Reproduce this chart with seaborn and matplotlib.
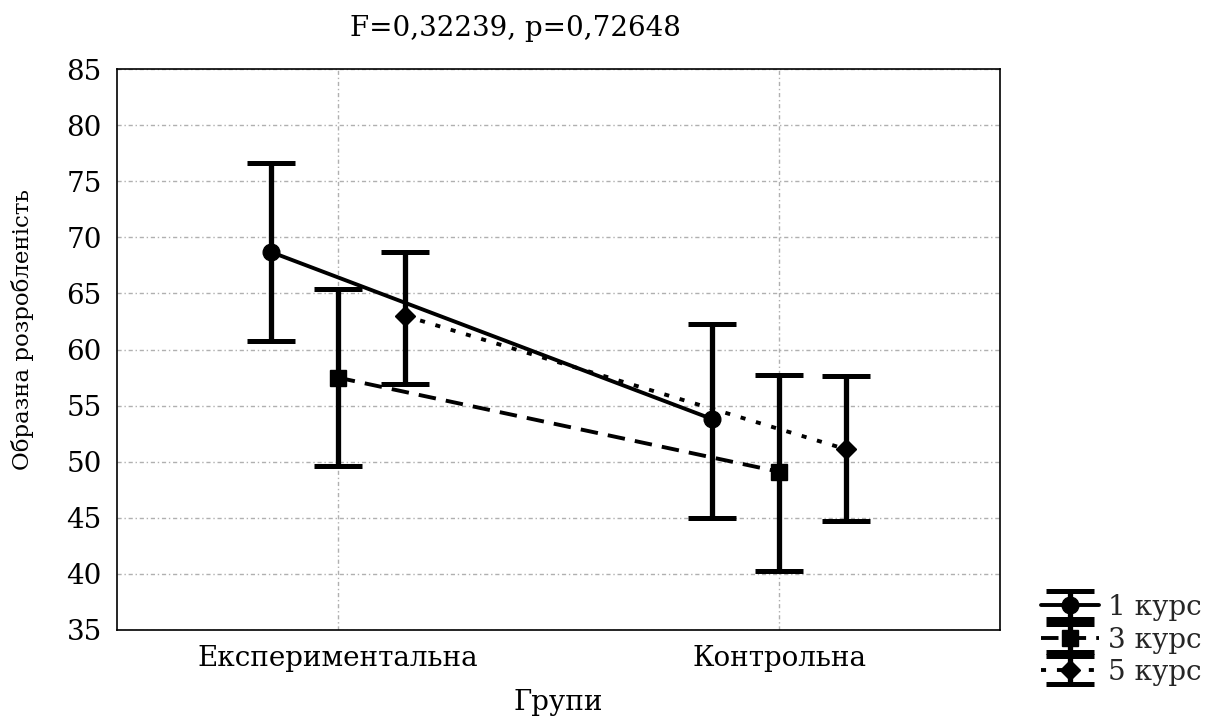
import numpy as np
import matplotlib
matplotlib.use("Agg")
import matplotlib.pyplot as plt
import seaborn as sns

# Group categories and course series
groups = ["Експериментальна", "Контрольна"]
courses = ["1 курс", "3 курс", "5 курс"]

# Means and confidence bounds per course (Експериментальна, Контрольна)
means = {
    "1 курс": [68.7, 53.8],
    "3 курс": [57.5, 49.1],
    "5 курс": [63.0, 51.1],
}
lower = {
    "1 курс": [60.8, 45.0],
    "3 курс": [49.6, 40.3],
    "5 курс": [56.9, 44.7],
}
upper = {
    "1 курс": [76.6, 62.3],
    "3 курс": [65.4, 57.7],
    "5 курс": [68.7, 57.6],
}

title = "F=0,32239, p=0,72648"
xlabel = "Групи"
ylabel = "Образна розробленість"
yticks = [35, 40, 45, 50, 55, 60, 65, 70, 75, 80, 85]

sns.set_theme(style="white")
plt.rcParams["font.family"] = ["DejaVu Serif", "DejaVu Sans"]

fig = plt.figure(figsize=(12.14, 7.21), dpi=100)
ax = fig.add_axes([117 / 1214, 1 - 630 / 721, 883 / 1214, 561 / 721])

styles = {
    "1 курс": dict(marker="o", ls="-", ms=12),
    "3 курс": dict(marker="s", ls=(0, (4.5, 2.6)), ms=12),
    "5 курс": dict(marker="D", ls=(0, (1.3, 2.8)), ms=10),
}
offsets = {"1 курс": -0.152, "3 курс": 0.0, "5 курс": 0.152}

base = np.arange(len(groups))
handles = []
for c in courses:
    x = base + offsets[c]
    m = np.array(means[c])
    err = np.vstack([m - np.array(lower[c]), np.array(upper[c]) - m])
    st = styles[c]
    h = ax.errorbar(
        x, m, yerr=err, color="black", ecolor="black",
        linestyle=st["ls"], lw=2.8, marker=st["marker"], ms=st["ms"],
        mfc="black", mec="black", elinewidth=3.8, capsize=17.5,
        capthick=3.6, label=c, zorder=3,
    )
    handles.append(h)

ax.set_xlim(-0.5, 1.5)
ax.set_ylim(35, 85)
ax.set_xticks(base)
ax.set_xticklabels(groups)
ax.set_yticks(yticks)

ax.grid(True, color="#b0b0b0", lw=1.0, ls=(0, (3, 2, 1, 2)))
ax.set_axisbelow(True)
for sp in ax.spines.values():
    sp.set_color("black")
    sp.set_linewidth(1.2)

ax.tick_params(axis="both", direction="in", length=4, width=1,
               colors="black", labelsize=20, pad=11)
ax.set_xlabel(xlabel, fontsize=20, labelpad=12, color="black")
ax.set_ylabel(ylabel, fontsize=16.5, color="black")
ax.yaxis.set_label_coords(-0.094, 0.535)
ax.set_title(title, fontsize=20, x=(515 - 117) / 883, pad=24, color="black")

fig.legend(handles=handles, labels=courses, loc="center left",
           bbox_to_anchor=(1030 / 1214, 1 - 640 / 721), frameon=False,
           fontsize=20, handlelength=2.1, handletextpad=0.3,
           labelspacing=0.2, borderaxespad=0)

fig.savefig("out.png", dpi=100)
